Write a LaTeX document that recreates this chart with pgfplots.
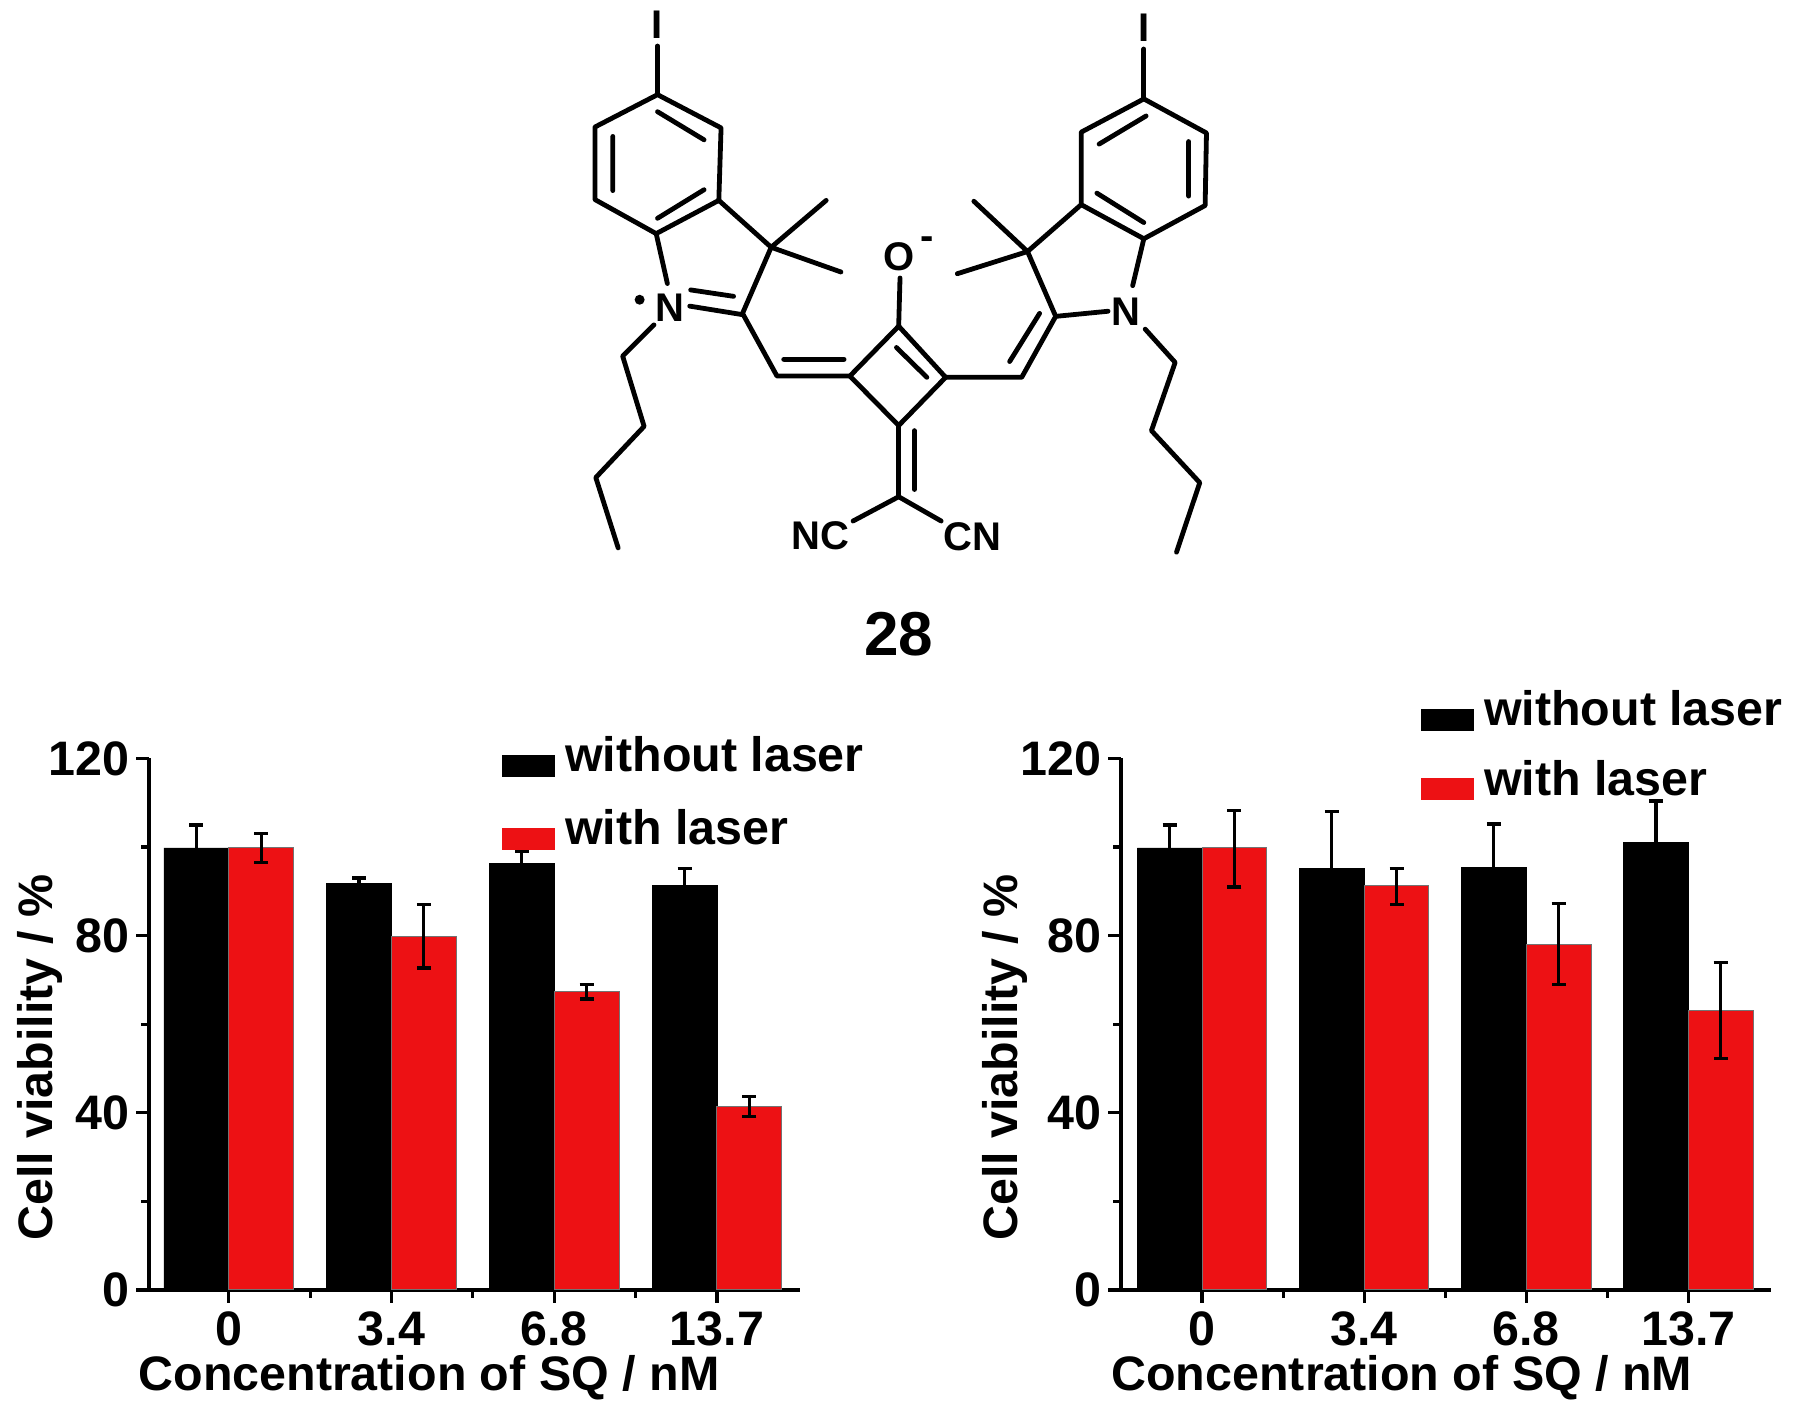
\documentclass[border=0pt]{standalone}
\usepackage{pgfplots}
\usepackage{pgfplotstable}
\usepackage{fontspec}
\setmainfont{Liberation Sans}
\pgfplotsset{compat=1.18}
\definecolor{barred}{RGB}{237,17,20}
\pgfplotstableread{
x y ep em
0 99.8 5.2 5.2
1 91.7 1.3 1.3
2 96.4 2.7 2.7
3 91.3 3.9 3.9
}\leftblack
\pgfplotstableread{
x y ep em
0 100.0 3.0 3.5
1 79.8 7.3 7.1
2 67.3 1.7 1.6
3 41.5 2.1 2.4
}\leftred
\pgfplotstableread{
x y ep em
0 99.8 5.2 5.2
1 95.2 12.8 12.8
2 95.4 9.8 9.8
3 101.0 9.4 9.4
}\rightblack
\pgfplotstableread{
x y ep em
0 100.0 8.3 9.0
1 91.3 3.9 4.3
2 78.0 9.2 9.0
3 63.0 11.0 10.8
}\rightred
\newcommand{\bigbold}{\bfseries\fontsize{24.2}{28}\selectfont}
\pgfplotsset{
  vb/.style={
    scale only axis, height=265.75pt, ymin=0, ymax=120,
    ybar=0pt, bar width=32.4pt,
    axis x line=bottom, axis y line=left,
    axis line style={-, line width=2pt},
    xtick={0,1,2,3}, xticklabels={0,3.4,6.8,13.7},
    minor xtick={0.5,1.5,2.5},
    ytick={0,40,80,120}, minor ytick={20,60,100},
    tick align=outside, major tick length=6.5pt, minor tick length=4pt,
    tick style={black, line width=1.6pt},
    /pgf/number format/assume math mode=true,
    tick label style={font=\bigbold},
    xticklabel style={yshift=-1pt},
    label style={font=\bigbold},
    legend cell align=left,
    legend image code/.code={\draw[##1,draw=none] (0pt,-11.5pt) rectangle (26.5pt,-0.5pt); \path[draw=none,fill=none] (0pt,-5pt)--(31.5pt,-5pt);},
  },
  eb/.style={error bars/.cd, y dir=both, y explicit,
    error bar style={black,line width=1.6pt},
    error mark options={black,rotate=90,mark size=3.5pt,line width=1.6pt}},
  blk/.style={fill=black, draw=black, line width=0.4pt, eb},
  rd/.style={fill=barred, draw=black!55, line width=0.5pt, eb},
}
\begin{document}
\begin{tikzpicture}
\path[use as bounding box] (0,0) rectangle (900pt,703.5pt);

% molecule
\begin{scope}[shift={(280pt,703.5pt)}, x=0.2237pt, y=-0.2132pt, line width=2.4pt, line cap=round, line join=round]
\draw (218,222)--(360,300)--(355,470)--(215,548)--(78,468)--(78,298)--cycle;
\draw (218,262)--(322,328) (118,320)--(118,447) (218,512)--(322,445);
\draw (218,108)--(218,222);
\draw (355,470)--(472,580)--(408,735) (215,548)--(240,665);
\draw (472,580)--(595,470) (472,580)--(628,638);
\draw (290,718)--(408,738) (292,680)--(388,695);
\draw (210,762)--(140,835)--(188,1000)--(80,1120)--(130,1285);
\draw (408,735)--(485,882)--(648,882) (500,843)--(635,843);
\draw (757,765)--(648,882)--(757,998)--(862,885)--cycle;
\draw (752,815)--(820,885);
\draw (760,652)--(757,765);
\draw (862,885)--(1032,885)--(1108,742)--(1225,730) (1005,848)--(1072,735);
\draw (1108,742)--(1045,590) (1045,590)--(925,472) (1045,590)--(888,642) (1045,590)--(1165,480);
\draw (1305,232)--(1445,312)--(1442,482)--(1305,560)--(1165,480)--(1165,310)--cycle;
\draw (1205,338)--(1310,272) (1405,332)--(1405,460) (1200,453)--(1305,522);
\draw (1305,560)--(1280,670);
\draw (1308,772)--(1375,850)--(1322,1010)--(1430,1132)--(1378,1295);
\draw (1305,115)--(1305,232);
\draw (757,998)--(757,1165) (792,1010)--(792,1148);
\draw (757,1165)--(655,1222) (757,1165)--(852,1222);
\fill (178,703) circle (2.5pt);
\begin{scope}[every node/.style={inner sep=0pt,font=\bfseries\fontsize{20}{24}\selectfont}]
\node at (218,58) {I};
\node at (1305,66) {I};
\node at (245,722) {N};
\node at (1265,730) {N};
\node at (757,602) {O};
\node at (820,570) {-};
\node at (582,1256) {NC};
\node at (922,1259) {CN};
\end{scope}
\node[inner sep=0pt,font=\bfseries\fontsize{31}{36}\selectfont] at (757,1488) {28};
\end{scope}

% left chart
\begin{axis}[vb, at={(74.5pt,58.5pt)}, anchor=south west, width=325.5pt, xmin=-0.49, xmax=3.51,
  xlabel={Concentration of SQ / nM}, ylabel={Cell viability / \%},
  xlabel style={at={(axis description cs:0.43,-0.19)}, anchor=base},
  ylabel style={at={(axis description cs:-0.168,0.437)}, anchor=center},
  legend style={at={(axis description cs:0.542,1.044)}, anchor=north west, draw=none, fill=none,
    inner sep=0pt, row sep=16pt, font=\bigbold,
    nodes={inner sep=0pt, text height=18pt, text depth=0pt}},
]
\addplot[blk] table[x=x,y=y,y error plus=ep,y error minus=em] {\leftblack};
\addlegendentry{without laser}
\addplot[rd] table[x=x,y=y,y error plus=ep,y error minus=em] {\leftred};
\addlegendentry{with laser}
\end{axis}

% right chart
\begin{axis}[vb, at={(560.5pt,58.5pt)}, anchor=south west, width=325pt, xmin=-0.5, xmax=3.51,
  xlabel={Concentration of SQ / nM}, ylabel={Cell viability / \%},
  xlabel style={at={(axis description cs:0.432,-0.19)}, anchor=base},
  ylabel style={at={(axis description cs:-0.178,0.437)}, anchor=center},
  legend style={at={(axis description cs:0.461,1.130)}, anchor=north west, draw=none, fill=none,
    inner sep=0pt, row sep=14.2pt, font=\bigbold,
    nodes={inner sep=0pt, text height=18pt, text depth=0pt}},
]
\addplot[blk] table[x=x,y=y,y error plus=ep,y error minus=em] {\rightblack};
\addlegendentry{without laser}
\addplot[rd] table[x=x,y=y,y error plus=ep,y error minus=em] {\rightred};
\addlegendentry{with laser}
\end{axis}
\end{tikzpicture}
\end{document}
